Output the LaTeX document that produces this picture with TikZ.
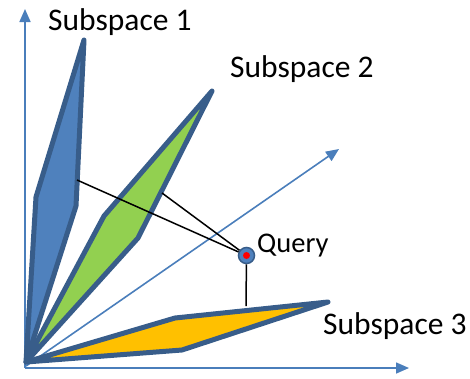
\documentclass[tikz,border=0pt]{standalone}
\usepackage{fontspec}
\setmainfont{Carlito}
\usetikzlibrary{arrows.meta}
\definecolor{axisblue}{RGB}{74,126,187}
\definecolor{edgeblue}{RGB}{56,93,138}
\definecolor{fillblue}{RGB}{79,129,189}
\definecolor{fillgreen}{RGB}{146,208,80}
\definecolor{fillyellow}{RGB}{255,192,0}
\tikzset{
  axis/.style={draw=axisblue, line width=1.6pt, -{Triangle[length=13pt,width=11pt]}},
  subspace/.style={draw=edgeblue, line width=5pt, line join=round},
  link/.style={draw=black, line width=1.5pt},
  label/.style={anchor=base west, inner sep=0pt, font=\fontsize{31.5}{38}\selectfont},
}
\begin{document}
\begin{tikzpicture}[x=1pt,y=-1pt]
\useasboundingbox (0,0) rectangle (470,378);
% axes
\coordinate (o) at (25,368);
\coordinate (xend) at (409,368);
\coordinate (yend) at (25,9);
\coordinate (zend) at (339,149);
\draw[axis] (o) -- (xend);
\draw[axis] (o) -- (yend);
\draw[axis] (26,366) -- (zend);
% subspaces
\coordinate (apex) at (26,362);
\filldraw[subspace, fill=fillblue] (apex) -- (36,197) -- (84,40) -- (76,206) -- cycle;
\filldraw[subspace, fill=fillgreen] (apex) -- (104,216) -- (212,91) -- (138,238) -- cycle;
\filldraw[subspace, fill=fillyellow] (apex) -- (175,318) -- (328,302) -- (182,350) -- cycle;
% projection feet
\coordinate (p1) at (77,180);
\coordinate (p2) at (162,193);
\coordinate (p3) at (246,306);
% query point
\node[circle, fill=fillblue, draw=edgeblue, line width=1.5pt, minimum size=16pt, inner sep=0pt] (q) at (246.5,255.5) {};
\draw[link] (q) -- (p1);
\draw[link] (q) -- (p2);
\draw[link] (q) -- (p3);
\node[circle, fill=red, minimum size=7pt, inner sep=0pt] (qdot) at (q.center) {};
% labels
\node[label] (l1) at (48,30) {Subspace 1};
\node[label] (l2) at (230,77) {Subspace 2};
\node[label] (l3) at (323,334) {Subspace 3};
\node[label, font=\fontsize{28.5}{34}\selectfont] (lq) at (257,252) {Query};
\end{tikzpicture}
\end{document}
